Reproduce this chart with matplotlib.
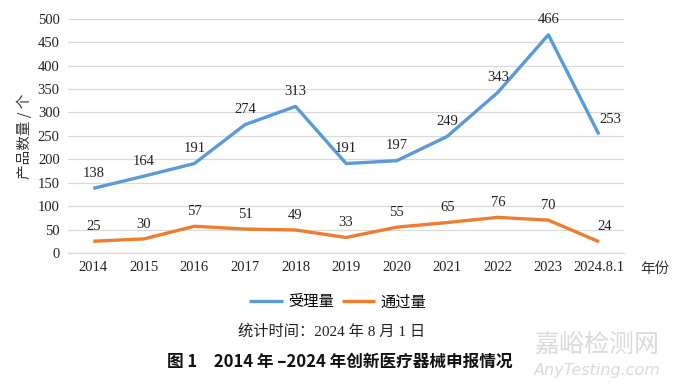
import matplotlib.pyplot as plt

years = ["2014", "2015", "2016", "2017", "2018", "2019", "2020", "2021", "2022", "2023", "2024.8.1"]
accepted = [138, 164, 191, 274, 313, 191, 197, 249, 343, 466, 253]
approved = [25, 30, 57, 51, 49, 33, 55, 65, 76, 70, 24]

serif = ["Liberation Serif", "Noto Sans CJK SC"]
cjk = ["Noto Sans CJK SC", "DejaVu Sans"]
plt.rcParams["font.family"] = cjk

fig = plt.figure(figsize=(6.8, 3.85), dpi=100)
ax = fig.add_axes([0.1, 0.343, 0.818, 0.608])

x = range(len(years))
blue = "#5B9BD5"
orange = "#ED7D31"
ax.plot(x, accepted, color=blue, lw=2.4, label="受理量", solid_capstyle="butt")
ax.plot(x, approved, color=orange, lw=2.4, label="通过量", solid_capstyle="butt")

# last point labels sit a little to the right in the original
last = len(years) - 1
for i, v in enumerate(accepted):
    dx = 8 if i == last else 0
    ax.annotate(str(v), (i, v), xytext=(dx, 6), textcoords="offset points",
                ha="center", va="bottom", fontsize=10.5, family=serif, color="#222222")
for i, v in enumerate(approved):
    dx = 4 if i == last else 0
    ax.annotate(str(v), (i, v), xytext=(dx, 6), textcoords="offset points",
                ha="center", va="bottom", fontsize=10.5, family=serif, color="#222222")

ax.set_xlim(-0.5, len(years) - 0.5)
ax.set_ylim(0, 500)
ax.set_yticks(range(0, 501, 50))
ax.set_xticks(list(x))
ax.set_xticklabels(years, family=serif, fontsize=10.5)
for t in ax.get_yticklabels():
    t.set_family(serif)
    t.set_fontsize(10.5)
ax.tick_params(length=0, pad=6, colors="#222222")
ax.grid(axis="y", color="#D9D9D9", lw=0.9)
ax.set_axisbelow(True)
for s in ["top", "right", "left"]:
    ax.spines[s].set_visible(False)
ax.spines["bottom"].set_color("#D9D9D9")
ax.spines["bottom"].set_linewidth(0.9)

ax.set_ylabel("产品数量 / 个", fontsize=10.5, color="#333333", labelpad=4)
fig.text(0.963, 0.302, "年份", fontsize=10.5, ha="center", va="center", color="#333333")

ax.legend(loc="center", bbox_to_anchor=(0.497, 0.216), bbox_transform=fig.transFigure,
          ncol=2, frameon=False, fontsize=11, handlelength=2.2, columnspacing=0.5,
          handletextpad=0.35, borderpad=0, borderaxespad=0)

fig.text(0.487, 0.138, "统计时间：2024 年 8 月 1 日", fontsize=11, ha="center", va="center",
         color="#222222", family=serif)
fig.text(0.5, 0.06, "图 1　2014 年 –2024 年创新医疗器械申报情况", fontsize=12,
         ha="center", va="center", weight="bold", color="#111111")

fig.text(0.877, 0.105, "嘉峪检测网", fontsize=18, ha="center", va="center", color="#DADADA")
fig.text(0.879, 0.038, "AnyTesting.com", fontsize=11.5, ha="center", va="center",
         color="#DADADA", style="italic", family="DejaVu Sans")

fig.savefig("out.png", dpi=100)
